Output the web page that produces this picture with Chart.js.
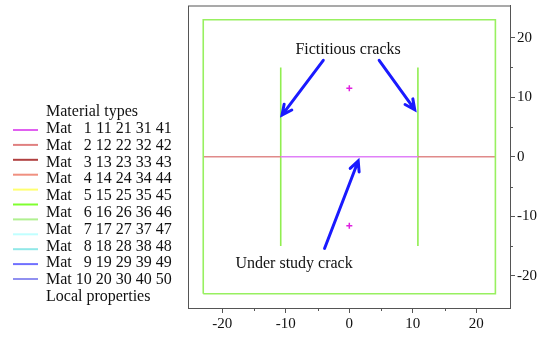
<!DOCTYPE html>
<html>
<head>
<meta charset="utf-8">
<script src="https://cdn.jsdelivr.net/npm/chart.js@4/dist/chart.umd.min.js"></script>
<style>
  html, body { margin: 0; padding: 0; background: #fff; }
  canvas { display: block; }
</style>
</head>
<body>
<canvas id="crack-model" width="544" height="338"></canvas>
<script>
// material legend
const materialNumbers = [
    [1, 11, 21, 31, 41],
    [2, 12, 22, 32, 42],
    [3, 13, 23, 33, 43],
    [4, 14, 24, 34, 44],
    [5, 15, 25, 35, 45],
    [6, 16, 26, 36, 46],
    [7, 17, 27, 37, 47],
    [8, 18, 28, 38, 48],
    [9, 19, 29, 39, 49],
    [10, 20, 30, 40, 50],
];
const materialColors = [
    '#e060f0', '#e08080', '#b04040', '#f09080', '#ffff70', '#80ff30',
    '#b0f090', '#c0ffff', '#90e8e8', '#7070ff', '#9090f0'
];

// geometry (mm)
const boxX = [-23, 23, 23, -23, -23];
const boxY = [-23, -23, 23, 23, -23];
const leftCrackX = [-10.8, -10.8];
const rightCrackX = [10.8, 10.8];
const crackY = [-15, 15];
const studyLeftX = [-23, -10.8];
const studyMidX = [-10.8, 10.8];
const studyRightX = [10.8, 23];
const studyY = [0, 0];
const pointsX = [0, 0];
const pointsY = [11.5, -11.6];

// arrows [x0, y0, x1, y1]
const arrows = [
    [-4.1, 16.2, -10.6, 7.0],
    [4.7, 16.2, 10.3, 7.9],
    [-3.9, -15.4, 1.4, -0.7],
];
const labelFictitious = { text: 'Fictitious cracks', x: -0.2, y: 17.9 };
const labelStudy = { text: 'Under study crack', x: -8.7, y: -18.0 };

const xTicks = [-20, -10, 0, 10, 20];
const yTicks = [-20, -10, 0, 10, 20];

function pts(xs, ys) {
    return xs.map((x, i) => ({ x: x, y: ys[i] }));
}
function lineSet(xs, ys, color) {
    return {
        data: pts(xs, ys),
        showLine: true,
        borderColor: color,
        borderWidth: 1.6,
        pointRadius: 0,
        fill: false,
    };
}

const serif = '"Liberation Serif", "Times New Roman", serif';

const extrasPlugin = {
    id: 'extras',
    afterDraw(chart) {
        const ctx = chart.ctx;
        const xs = chart.scales.x, ys = chart.scales.y;
        const a = chart.chartArea;
        ctx.save();
        // frame
        ctx.strokeStyle = '#555';
        ctx.lineWidth = 1;
        ctx.strokeRect(a.left + 0.5, a.top + 0.5, a.right - a.left, a.bottom - a.top);
        // minor ticks
        ctx.beginPath();
        [-15, -5, 5, 15].forEach(v => {
            const px = Math.round(xs.getPixelForValue(v)) + 0.5;
            ctx.moveTo(px, a.bottom); ctx.lineTo(px, a.bottom + 3);
            const py = Math.round(ys.getPixelForValue(v)) + 0.5;
            ctx.moveTo(a.right, py); ctx.lineTo(a.right + 3, py);
        });
        ctx.stroke();
        // arrows
        ctx.strokeStyle = '#1a1aff';
        ctx.lineWidth = 3;
        ctx.lineCap = 'round';
        arrows.forEach(ar => {
            const x0 = xs.getPixelForValue(ar[0]), y0 = ys.getPixelForValue(ar[1]);
            const x1 = xs.getPixelForValue(ar[2]), y1 = ys.getPixelForValue(ar[3]);
            const ang = Math.atan2(y1 - y0, x1 - x0);
            const h = 11;
            ctx.beginPath();
            ctx.moveTo(x0, y0); ctx.lineTo(x1, y1);
            ctx.moveTo(x1 - h * Math.cos(ang - 0.45), y1 - h * Math.sin(ang - 0.45));
            ctx.lineTo(x1, y1);
            ctx.lineTo(x1 - h * Math.cos(ang + 0.45), y1 - h * Math.sin(ang + 0.45));
            ctx.stroke();
        });
        // annotation text
        ctx.fillStyle = '#111';
        ctx.font = '16px ' + serif;
        ctx.textAlign = 'center';
        ctx.textBaseline = 'middle';
        [labelFictitious, labelStudy].forEach(l => {
            ctx.fillText(l.text, xs.getPixelForValue(l.x), ys.getPixelForValue(l.y));
        });
        // legend
        ctx.textAlign = 'left';
        ctx.fillText('Material types', 46, 112);
        const matW = ctx.measureText('Mat').width;
        const spW = ctx.measureText(' ').width;
        const twoW = ctx.measureText('10').width;
        materialNumbers.forEach((row, i) => {
            const y = 128.8 + i * 16.8;
            ctx.textAlign = 'left';
            ctx.fillText('Mat', 46, y);
            ctx.textAlign = 'right';
            let xr = 46 + matW;
            row.forEach(n => {
                xr += spW + twoW;
                ctx.fillText(String(n), xr, y);
            });
        });
        ctx.textAlign = 'left';
        ctx.fillText('Local properties', 46, 128.8 + 10 * 16.8);
        ctx.lineWidth = 2;
        ctx.lineCap = 'butt';
        materialColors.forEach((c, i) => {
            const y = 130 + i * 14.9;
            ctx.strokeStyle = c;
            ctx.beginPath();
            ctx.moveTo(13, y); ctx.lineTo(38, y);
            ctx.stroke();
        });
        ctx.restore();
    }
};

const configCrack = {
    type: 'scatter',
    data: {
        datasets: [
            lineSet(boxX, boxY, '#98f060'),
            lineSet(studyLeftX, studyY, '#e08a8a'),
            lineSet(studyRightX, studyY, '#e08a8a'),
            lineSet(studyMidX, studyY, '#e080f8'),
            lineSet(leftCrackX, crackY, '#90ee50'),
            lineSet(rightCrackX, crackY, '#90ee50'),
            {
                data: pts(pointsX, pointsY),
                pointStyle: 'cross',
                pointRadius: 3,
                borderColor: '#e020e0',
                borderWidth: 1.5,
            },
        ]
    },
    options: {
        responsive: false,
        animation: false,
        devicePixelRatio: 1,
        layout: { padding: { left: 188, top: 5, right: 0, bottom: 0 } },
        plugins: {
            legend: { display: false },
            tooltip: { enabled: false },
        },
        scales: {
            x: {
                type: 'linear',
                min: -25.4,
                max: 25.3,
                afterFit(s) { s.height = 30; s.paddingLeft = 0; s.paddingRight = 0; },
                afterBuildTicks(s) { s.ticks = xTicks.map(v => ({ value: v })); },
                ticks: {
                    includeBounds: false,
                    color: '#111',
                    font: { family: serif, size: 15 },
                    padding: 2,
                    maxRotation: 0,
                },
                grid: { drawOnChartArea: false, tickLength: 5, color: '#555' },
                border: { color: '#555' },
            },
            y: {
                type: 'linear',
                position: 'right',
                min: -25.4,
                max: 25.4,
                afterFit(s) { s.width = 34; s.paddingTop = 0; s.paddingBottom = 0; },
                afterBuildTicks(s) { s.ticks = yTicks.map(v => ({ value: v })); },
                ticks: {
                    includeBounds: false,
                    color: '#111',
                    font: { family: serif, size: 15 },
                    padding: 2,
                },
                grid: { drawOnChartArea: false, tickLength: 5, color: '#555' },
                border: { color: '#555' },
            },
        }
    },
    plugins: [extrasPlugin]
};

const ChartCrack = new Chart(
    document.getElementById('crack-model'),
    configCrack
);
</script>
</body>
</html>
